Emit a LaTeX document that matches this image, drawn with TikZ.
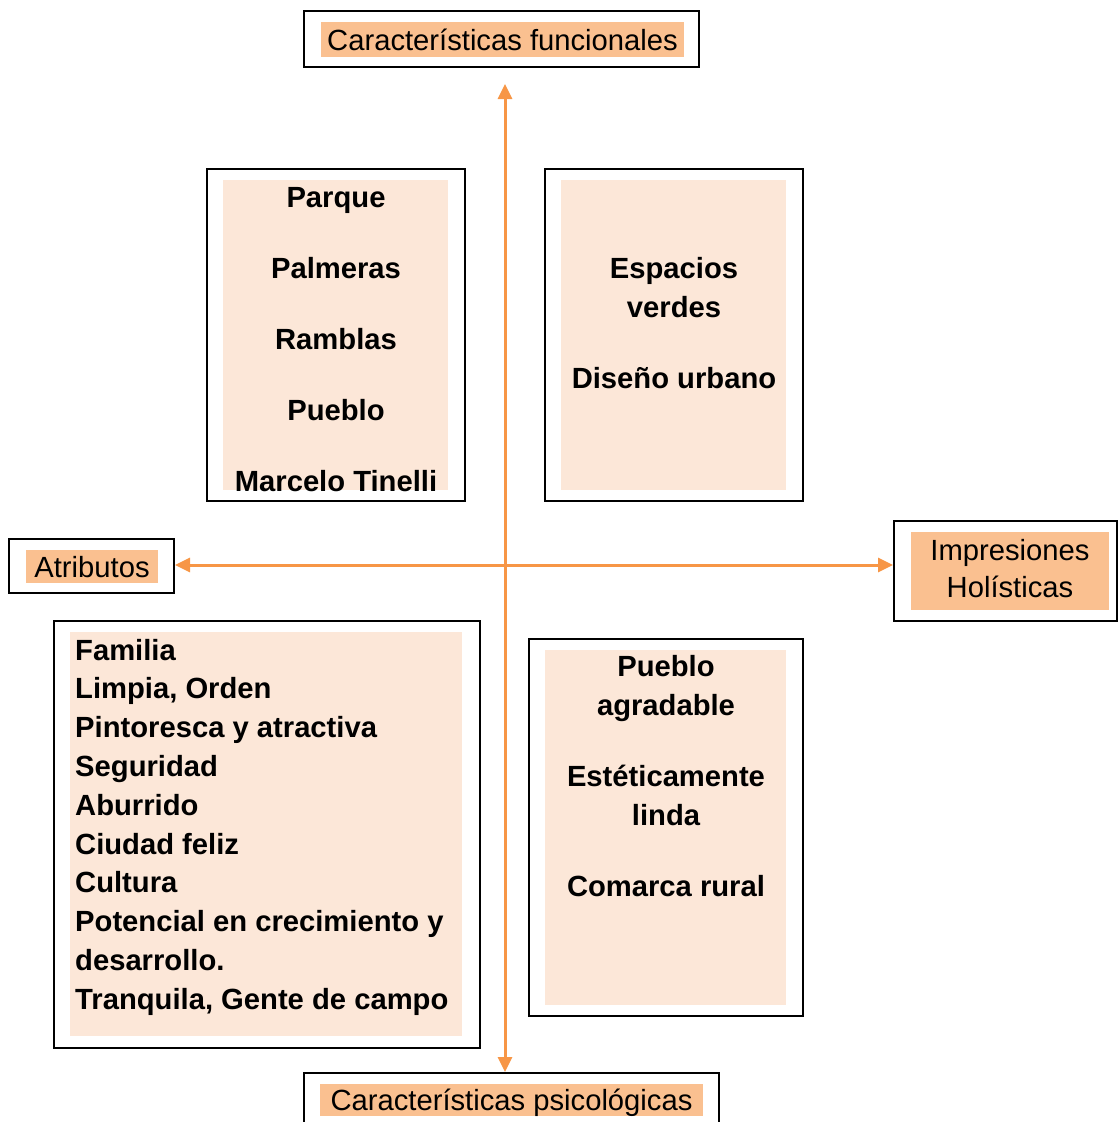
\documentclass[tikz,border=0pt]{standalone}
\usepackage{fontspec}
\setmainfont{Liberation Sans}
\usetikzlibrary{arrows.meta}
\definecolor{peach}{RGB}{250,192,144}
\definecolor{cream}{RGB}{252,231,216}
\definecolor{tangerine}{RGB}{247,150,70}
\tikzset{
  >={Triangle[length=15pt,width=14pt]},
  frame/.style={draw=black,line width=2pt,inner sep=0pt},
  pad/.style={fill=cream,inner sep=0pt},
  title/.style={fill=peach,inner sep=0pt,font=\fontsize{29.2}{37}\selectfont},
  oneline/.style={text height=21pt,text depth=0pt},
  item/.style={inner sep=0pt,font=\fontsize{29.2}{38.8}\selectfont\bfseries},
  axis/.style={<->,draw=tangerine,line width=3pt},
}

\begin{document}
\begin{tikzpicture}[x=1pt,y=-1pt]
  \clip (0,0) rectangle (1118,1122);
  % axes labels
  \node[frame,minimum width=395,minimum height=56] (fun) at (501.5,39) {};
  \node[title,oneline,minimum width=363,minimum height=35] (funl) at (502.5,39.5) {Características funcionales};
  \node[frame,minimum width=165,minimum height=54] (atr) at (91.5,566) {};
  \node[title,oneline,minimum width=132,minimum height=33] (atrl) at (92,566.5) {Atributos};
  \node[frame,minimum width=223,minimum height=100] (imp) at (1005.5,571) {};
  \node[title,minimum width=198,minimum height=78] (impl) at (1010,571) {};
  \node[title,fill=none,anchor=base] (imp1) at (1010,560) {Impresiones};
  \node[title,fill=none,anchor=base] (imp2) at (1010,597) {Holísticas};
  \node[frame,minimum width=415,minimum height=62] (psi) at (511.5,1104) {};
  \node[title,oneline,minimum width=383,minimum height=32] (psil) at (511.5,1100) {Características psicológicas};

  % axes
  \coordinate (o) at (505,565);
  \draw[axis,shorten <=16pt] (o |- fun.south) -- (o |- psi.north);
  \draw[axis] (o -| atr.east) -- (o -| imp.west);

  % quadrants
  \node[frame,minimum width=258,minimum height=332] (tl) at (336,335) {};
  \node[pad,minimum width=225,minimum height=310] (tlp) at (335.5,335) {};
  \foreach \t [count=\i] in {Parque,Palmeras,Ramblas,Pueblo,Marcelo Tinelli}
    \node[item,anchor=base] (tl\i) at (336,136+71*\i) {\t};

  \node[frame,minimum width=258,minimum height=332] (tr) at (674,335) {};
  \node[pad,minimum width=225,minimum height=310] (trp) at (673.5,335) {};
  \foreach \t/\y [count=\i] in {Espacios/278,verdes/317,Diseño urbano/388}
    \node[item,anchor=base] (tr\i) at (674,\y) {\t};

  \node[frame,minimum width=426,minimum height=427] (bl) at (267,834.5) {};
  \node[pad,minimum width=392,minimum height=404] (blp) at (266,834) {};
  \foreach \t [count=\i] in {Familia,{Limpia, Orden},Pintoresca y atractiva,Seguridad,Aburrido,Ciudad feliz,Cultura,Potencial en crecimiento y,desarrollo.,{Tranquila, Gente de campo}}
    \node[item,anchor=base west] (bl\i) at (75,621.2+38.8*\i) {\t};

  \node[frame,minimum width=274,minimum height=377] (br) at (666,827.5) {};
  \node[pad,minimum width=241,minimum height=355] (brp) at (665.5,827.5) {};
  \foreach \t/\y [count=\i] in {Pueblo/676,agradable/715,Estéticamente/786,linda/825,Comarca rural/896}
    \node[item,anchor=base] (br\i) at (666,\y) {\t};
\end{tikzpicture}
\end{document}
